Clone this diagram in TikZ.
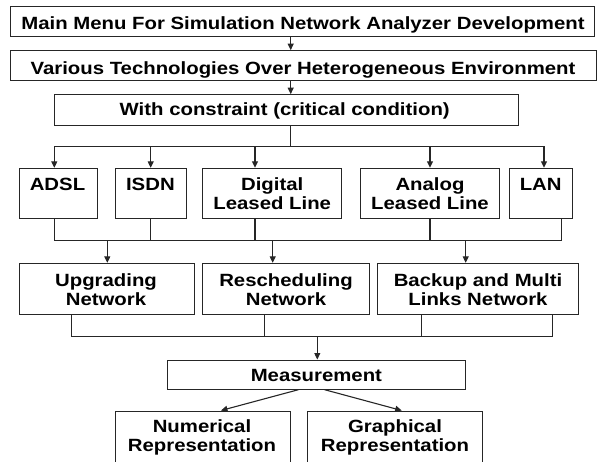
\documentclass[tikz,border=0pt]{standalone}
\usepackage{fontspec}
\newfontfamily\lblfont{Liberation Sans Bold}[FakeStretch=1.15]
\usetikzlibrary{arrows.meta}

% box given by its corners: name, x1, y1, x2, y2
\newcommand\mkbox[5]{%
  \node[box, minimum width={#4pt-#2pt}, minimum height={#5pt-#3pt}]
    (#1) at ({(#2+#4)/2},{(#3+#5)/2}) {};}

\begin{document}
\begin{tikzpicture}[x=1pt, y=-1pt,
  box/.style={draw=black!85, line width=1pt, rectangle, inner sep=0pt, fill=white},
  lbl/.style={font=\fontsize{17.7}{18.7}\lblfont, inner sep=0pt,
              align=center, anchor=base, text=black},
  link/.style={draw=black!85, line width=1.1pt, line cap=rect},
  arr/.style={link, -{Triangle[length=6.5pt,width=6pt]}}]
\useasboundingbox (0,0) rectangle (597,461);
\clip (0,0) rectangle (597,461);

% ---- boxes
\mkbox{menu}{10.7}{6}{594.5}{36}
\mkbox{tech}{10}{50.7}{596.5}{80.7}
\mkbox{cons}{54.3}{94.7}{518.3}{125}
\mkbox{adsl}{19}{168.3}{97.3}{218.3}
\mkbox{isdn}{115}{168.3}{186}{218.3}
\mkbox{dll}{202.7}{168.3}{341.7}{218.3}
\mkbox{all}{360}{168.3}{499.3}{218.3}
\mkbox{lan}{509}{168.3}{572.3}{218.3}
\mkbox{upg}{19}{263.3}{194.3}{314}
\mkbox{resc}{202.7}{263.3}{369.3}{314}
\mkbox{bkp}{377.7}{263.3}{578.3}{314}
\mkbox{meas}{167.7}{360}{465}{389.3}
\mkbox{num}{115.7}{411}{290}{480}
\mkbox{graph}{307.3}{411}{482.7}{480}

% ---- labels (two-line labels sit on the baseline of their last line)
\node[lbl] (menuT) at (303,29.3) {Main Menu For Simulation Network Analyzer Development};
\node[lbl] (techT) at (303,74) {Various Technologies Over Heterogeneous Environment};
\node[lbl] (consT) at (284.7,115.7) {With constraint (critical condition)};
\node[lbl] (adslT) at (57.5,190.7) {ADSL};
\node[lbl] (isdnT) at (150.4,190.7) {ISDN};
\node[lbl] (dllT) at (272.2,209.4) {Digital\\Leased Line};
\node[lbl] (allT) at (430,209.4) {Analog\\Leased Line};
\node[lbl] (lanT) at (540.7,190.7) {LAN};
\node[lbl] (upgT) at (106,305.4) {Upgrading\\Network};
\node[lbl] (rescT) at (286,305.4) {Rescheduling\\Network};
\node[lbl] (bkpT) at (478,305.4) {Backup and Multi\\Links Network};
\node[lbl] (measT) at (316.4,381.7) {Measurement};
\node[lbl] (numT) at (202,451.4) {Numerical\\Representation};
\node[lbl] (graphT) at (395,451.4) {Graphical\\Representation};

% ---- connector columns and buses
\coordinate (spine) at (290.7,0);
\coordinate (a1) at (54.3,0);
\coordinate (a2) at (150.7,0);
\coordinate (a3) at (255,0);
\coordinate (a4) at (430,0);
\coordinate (a5) at (544,0);
\coordinate (a6) at (561.7,0);
\coordinate (b1) at (107.3,0);
\coordinate (b2) at (272.7,0);
\coordinate (b3) at (465.7,0);
\coordinate (c1) at (71.7,0);
\coordinate (c2) at (264.3,0);
\coordinate (c3) at (421.7,0);
\coordinate (c4) at (552.3,0);
\coordinate (dm) at (317.3,0);
\coordinate (bus1) at (0,146.7);
\coordinate (bus2) at (0,240.7);
\coordinate (bus3) at (0,336.7);

% top chain
\draw[arr] (menu.south -| spine) -- (tech.north -| spine);
\draw[arr] (tech.south -| spine) -- (cons.north -| spine);
\draw[link] (cons.south -| spine) -- (bus1 -| spine);

% fan out to the technologies
\draw[link] (bus1 -| a1) -- (bus1 -| a5);
\foreach \c/\n in {a1/adsl, a2/isdn, a3/dll, a4/all, a5/lan}
  \draw[arr] (bus1 -| \c) -- (\n.north -| \c);

% collect into the network strategies
\draw[link] (adsl.south -| a1) |- (bus2 -| a6) -- (lan.south -| a6);
\foreach \c/\n in {a2/isdn, a3/dll, a4/all}
  \draw[link] (\n.south -| \c) -- (bus2 -| \c);
\draw[arr] (bus2 -| b1) -- (upg.north -| b1);
\draw[arr] (bus2 -| b2) -- (resc.north -| b2);
\draw[arr] (bus2 -| b3) -- (bkp.north -| b3);

% collect into measurement
\draw[link] (upg.south -| c1) |- (bus3 -| c4) -- (bkp.south -| c4);
\draw[link] (resc.south -| c2) -- (bus3 -| c2);
\draw[link] (bkp.south -| c3) -- (bus3 -| c3);
\draw[arr] (bus3 -| dm) -- (meas.north -| dm);

% representations
\draw[arr] ([xshift=-18.35pt]meas.south) -- ([xshift=18.15pt]num.north);
\draw[arr] ([xshift=8.65pt]meas.south) -- ([xshift=6.7pt]graph.north);
\end{tikzpicture}
\end{document}
